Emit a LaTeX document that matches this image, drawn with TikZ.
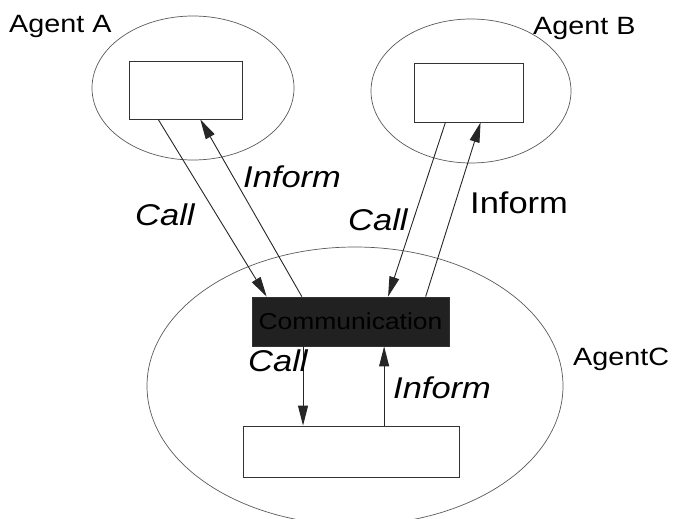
\documentclass[tikz,border=0pt]{standalone}
\usepackage{fontspec}
\setmainfont{Liberation Sans}[FakeStretch=1.15]
\usetikzlibrary{arrows.meta,calc}

\begin{document}
\begin{tikzpicture}[x=1pt,y=-1pt,
    agent/.style={draw=black!65,line width=0.7pt},
    box/.style={draw=black!80,line width=0.8pt,inner sep=0pt},
    msg/.style={-{Triangle[length=20pt,width=10pt]},line width=0.9pt,black!85},
    lbl/.style={anchor=base west,inner sep=0pt,font=\fontsize{30}{36}\selectfont},
    agentlbl/.style={anchor=base west,inner sep=0pt,font=\fontsize{25}{30}\selectfont}]
    \useasboundingbox (0,0) rectangle (675,519);
    \clip (0,0) rectangle (675,519);
    % the three agents
    \draw[agent] (193,88) ellipse [x radius=101,y radius=72];
    \draw[agent] (471,91) ellipse [x radius=100,y radius=72];
    \draw[agent] (355,386) ellipse [x radius=208,y radius=139];
    \node[agentlbl] (nameA) at (9,33) {Agent A};
    \node[agentlbl] (nameB) at (533,35) {Agent B};
    \node[agentlbl] (nameC) at (573,365) {AgentC};
    % boxes inside the agents
    \node[box,minimum width=113pt,minimum height=58pt] (ra) at (185.5,90) {};
    \node[box,minimum width=109pt,minimum height=59pt] (rb) at (468.5,92.5) {};
    \node[box,fill=black!87,minimum width=197pt,minimum height=49pt,
          font=\fontsize{23}{28}\selectfont] (comm) at (350.5,321.5) {Communication};
    \node[box,minimum width=216pt,minimum height=51pt] (rc) at (351,451.5) {};
    % end points on the box edges
    \coordinate (a1) at ($(ra.south west)!.26!(ra.south east)$);
    \coordinate (a2) at ($(ra.south west)!.63!(ra.south east)$);
    \coordinate (b1) at ($(rb.south west)!.29!(rb.south east)$);
    \coordinate (b2) at ($(rb.south west)!.61!(rb.south east)$);
    \coordinate (k1) at ($(comm.north west)!.076!(comm.north east)$);
    \coordinate (k2) at ($(comm.north west)!.254!(comm.north east)$);
    \coordinate (k3) at ($(comm.north west)!.69!(comm.north east)$);
    \coordinate (k4) at ($(comm.north west)!.88!(comm.north east)$);
    \coordinate (c1) at ($(comm.south west)!.26!(comm.south east)$);
    \coordinate (c2) at ($(comm.south west)!.67!(comm.south east)$);
    % messages between A, B and C
    \draw[msg] (a1) -- (k1);
    \draw[msg] (k2) -- (a2);
    \draw[msg] (b1) -- (k3);
    \draw[msg] (k4) -- (b2);
    \draw[msg] (c1) -- (c1 |- rc.north);
    \draw[msg] (c2 |- rc.north) -- (c2);
    % message labels
    \node[lbl] (callA) at (135,225) {\itshape Call};
    \node[lbl] (infA) at (243,187) {\itshape Inform};
    \node[lbl] (callB) at (348,230) {\itshape Call};
    \node[lbl] (infB) at (470,213) {Inform};
    \node[lbl] (callC) at (248,371) {\itshape Call};
    \node[lbl] (infC) at (393,398) {\itshape Inform};
\end{tikzpicture}
\end{document}
